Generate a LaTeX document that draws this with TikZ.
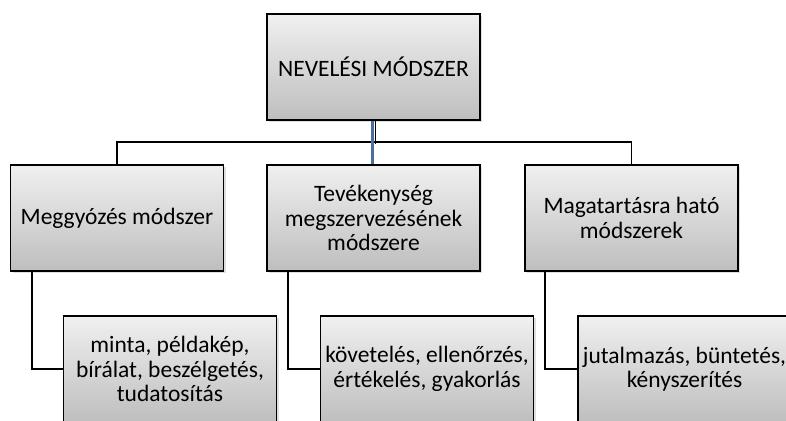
\documentclass[tikz,border=0pt]{standalone}
\usepackage{fontspec}
\setmainfont{Carlito}
\usetikzlibrary{shadows}
\definecolor{boxtop}{RGB}{240,240,240}
\definecolor{boxbot}{RGB}{190,190,190}
\definecolor{linkblue}{RGB}{74,110,160}
\begin{document}
\begin{tikzpicture}[x=1pt,y=-1pt,
  box/.style={draw=black,line width=1.5pt,top color=boxtop,bottom color=boxbot,
    minimum width=213pt,minimum height=106pt,inner sep=1pt,align=center,
    font=\fontsize{23.5}{24.5}\selectfont,
    drop shadow={opacity=0.25,shadow xshift=2pt,shadow yshift=-2pt}},
  link/.style={draw=black,line width=1.6pt}]
\useasboundingbox (0,0) rectangle (786,420);
\clip (0,0) rectangle (786,420);
\fill[white] (0,0) rectangle (786,420);
\node[box] (top) at (373.5,67) {NEVELÉSI MÓDSZER};
\node[box] (left) at (117,218) {Meggyózés módszer};
\node[box] (mid) at (373.5,218) {Tevékenység\\megszervezésének\\módszere};
\node[box] (right) at (631.5,218) {Magatartásra ható\\módszerek};
\node[box] (bl) at (170,369) {minta, példakép,\\bírálat, beszélgetés,\\tudatosítás};
\node[box] (bm) at (427,369) {követelés, ellenőrzés,\\értékelés, gyakorlás};
\node[box] (br) at (684.5,369) {jutalmazás, büntetés,\\kényszerítés};
\draw[link] (left.north) -- ++(0,-22) -| (right.north);
\draw[draw=linkblue,line width=3.6pt] ([xshift=-1pt]top.south) -- ([xshift=-1pt]mid.north);
\draw[link] ([xshift=1.8pt]top.south) -- ++(0,23);
\draw[link] ([xshift=22pt]left.south west) |- (bl.west);
\draw[link] ([xshift=22pt]mid.south west) |- (bm.west);
\draw[link] ([xshift=21pt]right.south west) |- (br.west);
\end{tikzpicture}
\end{document}
